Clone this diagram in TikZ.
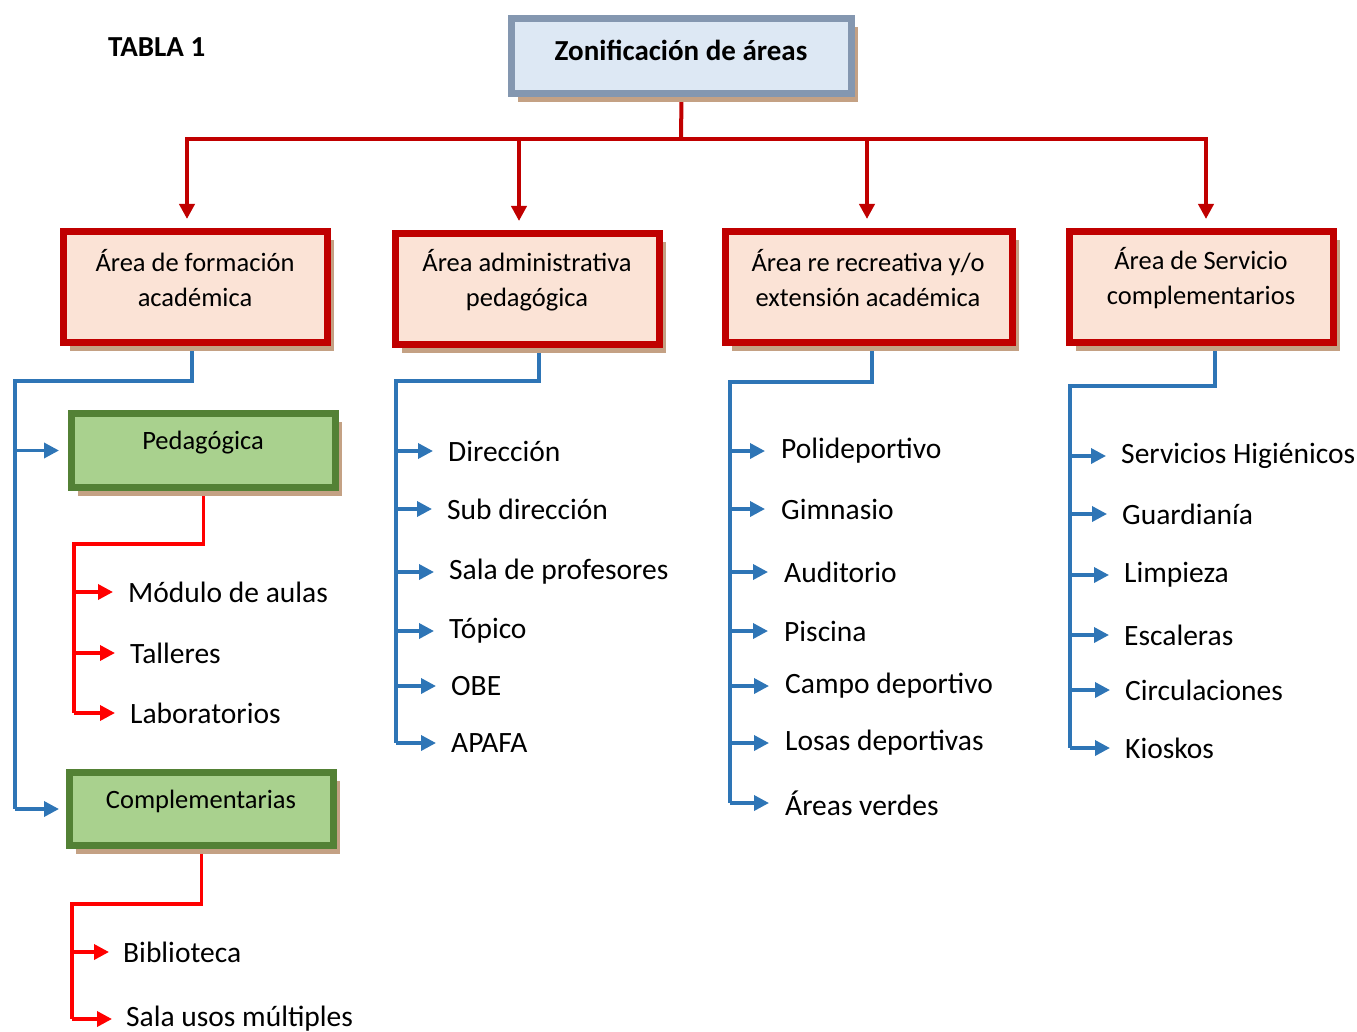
\documentclass[tikz,border=0pt]{standalone}
\usepackage{fontspec}
\setmainfont{Carlito}
\usetikzlibrary{arrows.meta,calc,shadows,backgrounds}

\definecolor{titleborder}{HTML}{8497B0}
\definecolor{titlefill}{HTML}{DDE8F4}
\definecolor{boxred}{HTML}{C00000}
\definecolor{boxfill}{HTML}{FBE3D6}
\definecolor{greenfill}{HTML}{A9D18E}
\definecolor{greenborder}{HTML}{538135}
\definecolor{shadowc}{HTML}{C4A184}
\definecolor{linkblue}{HTML}{2E75B6}
\definecolor{brightred}{HTML}{FF0000}

\tikzset{
  shadowed/.style={drop shadow={shadow xshift=6pt, shadow yshift=-8.5pt, fill=shadowc, opacity=1}},
  titlebox/.style={draw=titleborder, line width=7pt, fill=titlefill,
    minimum width=340pt, minimum height=75pt, shadowed},
  areabox/.style={draw=boxred, line width=7pt, fill=boxfill,
    minimum width=264pt, minimum height=111pt, shadowed},
  subbox/.style={draw=greenborder, line width=7pt, fill=greenfill,
    minimum width=264pt, minimum height=74pt, shadowed},
  boxtext/.style={align=center, inner sep=0pt, font=\fontsize{26.5}{35}\selectfont},
  item/.style={anchor=west, inner sep=0pt, font=\fontsize{29.5}{35}\selectfont},
  tip/.style={-{Triangle[length=15pt, width=15pt]}},
  mainline/.style={draw=boxred, line width=4pt},
  blueline/.style={draw=linkblue, line width=3.5pt},
  redline/.style={draw=brightred, line width=3.5pt},
}

\begin{document}
\begin{tikzpicture}[x=1pt, y=-1pt]
\useasboundingbox (0,0) rectangle (1357,1032);

% heading
\node[anchor=west, inner sep=0pt, font=\fontsize{29}{34}\selectfont\bfseries] (tabla) at (108,47) {TABLA 1};

% main box
\node[titlebox] (title) at (681.5,56) {};
\node[inner sep=0pt, font=\fontsize{29}{35}\selectfont\bfseries] (titletext) at (681,50) {Zonificación de áreas};

% four areas
\node[areabox] (b1) at (195.5,287) {};
\node[areabox] (b2) at (527.5,289) {};
\node[areabox, minimum width=287pt] (b3) at (869,287) {};
\node[areabox] (b4) at (1201.5,287) {};
\node[boxtext] (t1) at (195,278) {Área de formación\\académica};
\node[boxtext] (t2) at (527,280) {Área administrativa\\pedagógica};
\node[boxtext] (t3) at (868,278) {Área re recreativa y/o\\extensión académica};
\node[boxtext] (t4) at (1201,278) {Área de Servicio\\complementarios};

% academic sub-areas
\node[subbox] (g1) at (203.5,450.5) {};
\node[subbox, minimum height=73pt] (g2) at (201.5,809) {};
\node[boxtext] (tg1) at (203,443) {Pedagógica};
\node[boxtext] (tg2) at (201,801) {Complementarias};

% items: pedagogical
\node[item] (p1) at (128,592) {Módulo de aulas};
\node[item] (p2) at (130,653) {Talleres};
\node[item] (p3) at (130,713) {Laboratorios};
% items: complementary
\node[item] (q1) at (123,952) {Biblioteca};
\node[item] (q2) at (126,1019) {Sala usos múltiples};
% items: administrative
\node[item] (d1) at (448,451) {Dirección};
\node[item] (d2) at (447,509) {Sub dirección};
\node[item] (d3) at (449,572) {Sala de profesores};
\node[item] (d4) at (449,631) {Tópico};
\node[item] (d5) at (451,686) {OBE};
\node[item] (d6) at (451,743) {APAFA};
% items: recreation
\node[item] (r1) at (781,451) {Polideportivo};
\node[item] (r2) at (781,509) {Gimnasio};
\node[item] (r3) at (784,572) {Auditorio};
\node[item] (r4) at (784,631) {Piscina};
\node[item] (r5) at (785,686) {Campo deportivo};
\node[item] (r6) at (785,743) {Losas deportivas};
\node[item] (r7) at (785,803) {Áreas verdes};
% items: services
\node[item] (s1) at (1121,456) {Servicios Higiénicos};
\node[item] (s2) at (1122,514) {Guardianía};
\node[item] (s3) at (1124,575) {Limpieza};
\node[item] (s4) at (1124,635) {Escaleras};
\node[item] (s5) at (1125,690) {Circulaciones};
\node[item] (s6) at (1125,748) {Kioskos};

% junctions
\coordinate (tj) at (681,139);
\coordinate (j1) at (15,381);
\coordinate (j2) at (396,381);
\coordinate (j3) at (730,382);
\coordinate (j4) at (1070,386);
\coordinate (jp) at (74,544);
\coordinate (jq) at (72,904);

\begin{scope}[on background layer]
  % main split
  \draw[mainline] (title.south) -- (tj);
  \draw[mainline, tip, shorten >=9pt] (tj) -| ($(b1.north)+(-8.5,0)$);
  \draw[mainline, tip, shorten >=9pt] (tj) -| ($(b2.north)+(-8.5,0)$);
  \draw[mainline, tip, shorten >=9pt] (tj) -| ($(b3.north)+(-2,0)$);
  \draw[mainline, tip, shorten >=9pt] (tj) -| ($(b4.north)+(4.5,0)$);

  % area 1
  \draw[blueline] ($(b1.south)+(-3.5,0)$) |- (j1) -- (j1 |- g2.west);
  \draw[blueline, tip, shorten >=9pt] (j1 |- g1.west) -- (g1.west);
  \draw[blueline, tip, shorten >=7pt] (j1 |- g2.west) -- (g2.west);

  \draw[redline] (g1.south) |- (jp) -- (jp |- p3.west);
  \foreach \n in {p1,p2,p3}
    \draw[redline, tip] (jp |- \n.west) -- ($(\n.west)+(-15,0)$);

  \draw[redline] (g2.south) |- (jq) -- (jq |- q2.west);
  \foreach \n in {q1,q2}
    \draw[redline, tip] (jq |- \n.west) -- ($(\n.west)+(-14,0)$);

  % area 2
  \draw[blueline] ($(b2.south)+(11.5,0)$) |- (j2) -- (j2 |- d6.west);
  \foreach \n in {d1,d2,d3,d4,d5,d6}
    \draw[blueline, tip] (j2 |- \n.west) -- ($(\n.west)+(-15,0)$);

  % area 3
  \draw[blueline] ($(b3.south)+(3,0)$) |- (j3) -- (j3 |- r7.west);
  \foreach \n in {r1,r2,r3,r4,r5,r6,r7}
    \draw[blueline, tip] (j3 |- \n.west) -- ($(\n.west)+(-16,0)$);

  % area 4
  \draw[blueline] ($(b4.south)+(13.5,0)$) |- (j4) -- (j4 |- s6.west);
  \foreach \n in {s1,s2,s3,s4,s5,s6}
    \draw[blueline, tip] (j4 |- \n.west) -- ($(\n.west)+(-15,0)$);
\end{scope}
\end{tikzpicture}
\end{document}
